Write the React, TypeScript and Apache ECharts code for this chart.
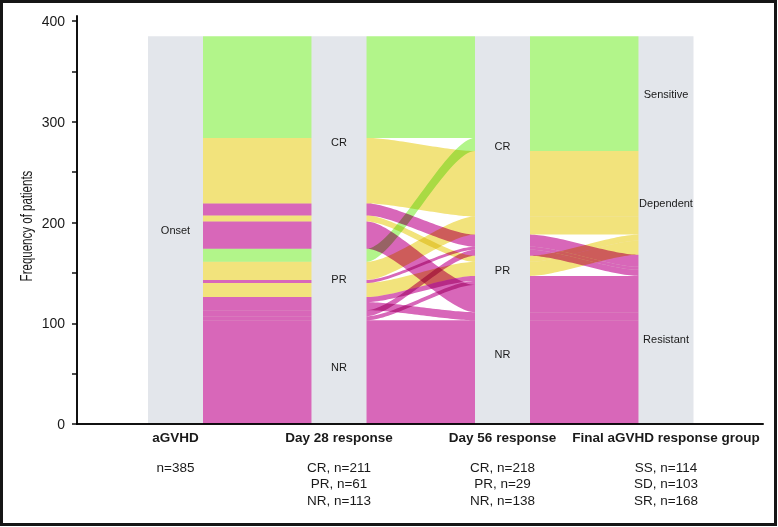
import React, { useEffect, useRef } from 'react';
import * as echarts from 'echarts';

// ---- axes (strata columns) ----
const axisTitles = ['aGVHD', 'Day 28 response', 'Day 56 response', 'Final aGVHD response group'];
const axisCountLabels = [
  ['n=385'],
  ['CR, n=211', 'PR, n=61', 'NR, n=113'],
  ['CR, n=218', 'PR, n=29', 'NR, n=138'],
  ['SS, n=114', 'SD, n=103', 'SR, n=168'],
];
const axisPositions = [1, 2, 3, 4];
const strataOrder = [
  ['Onset'],
  ['CR', 'PR', 'NR'],
  ['CR', 'PR', 'NR'],
  ['Sensitive', 'Dependent', 'Resistant'],
];
const yAxisTitle = 'Frequency of patients';

// ---- alluvia (one entry per patient path) ----
const onset = ['Onset', 'Onset', 'Onset', 'Onset', 'Onset', 'Onset', 'Onset', 'Onset', 'Onset', 'Onset', 'Onset', 'Onset', 'Onset', 'Onset'];
const day28 = ['CR', 'CR', 'CR', 'CR', 'CR', 'PR', 'PR', 'PR', 'PR', 'PR', 'PR', 'NR', 'NR', 'NR'];
const day56 = ['CR', 'CR', 'CR', 'PR', 'NR', 'CR', 'CR', 'CR', 'PR', 'PR', 'NR', 'CR', 'PR', 'NR'];
const finalGroup = ['Sensitive', 'Dependent', 'Resistant', 'Dependent', 'Resistant', 'Sensitive', 'Dependent', 'Resistant', 'Dependent', 'Resistant', 'Resistant', 'Resistant', 'Resistant', 'Resistant'];
const patients = [101, 65, 12, 6, 27, 13, 18, 3, 14, 5, 8, 6, 4, 103];

// ---- y axis ticks ----
const yTickValues = [0, 50, 100, 150, 200, 250, 300, 350, 400];
const yLabelValues = [0, 100, 200, 300, 400];

// ---- styles ----
const groupColors: Record<string, string> = {
  Sensitive: '#b2f58a',
  Dependent: '#f2e37c',
  Resistant: '#d867b9',
};
const STRATUM_FILL = '#e3e6eb';
const HW = 0.1682; // stratum half width (x units)
const KNOT = 0.25;
const FONT = "'Liberation Sans', Arial, Helvetica, sans-serif";
const TEXT = '#1a1a1a';

// ---- lode layout (derived from data) ----
const columns = [onset, day28, day56, finalGroup];
const keyOrder = [
  [0, 1, 2, 3],
  [1, 2, 3, 0],
  [2, 3, 1, 0],
  [3, 2, 1, 0],
];
const total = patients.reduce((a, b) => a + b, 0);
const rankOf = (axis: number, i: number) => strataOrder[axis].indexOf(columns[axis][i]);

type Lode = { top: number; bottom: number };
const lodes: Lode[][] = columns.map((_, axis) => {
  const idx = patients.map((_, i) => i);
  idx.sort((a, b) => {
    for (const k of keyOrder[axis]) {
      const d = rankOf(k, a) - rankOf(k, b);
      if (d !== 0) return d;
    }
    return a - b;
  });
  const res: Lode[] = new Array(patients.length);
  let y = total;
  for (const i of idx) {
    res[i] = { top: y, bottom: y - patients[i] };
    y -= patients[i];
  }
  return res;
});

const strataRanges = strataOrder.map((names, axis) =>
  names.map((name) => {
    let top = -Infinity;
    let bottom = Infinity;
    patients.forEach((_, i) => {
      if (columns[axis][i] === name) {
        top = Math.max(top, lodes[axis][i].top);
        bottom = Math.min(bottom, lodes[axis][i].bottom);
      }
    });
    return { top, bottom };
  })
);

const strataData: number[][] = [];
strataOrder.forEach((names, a) => names.forEach((_, s) => strataData.push([a, s])));
const flowData: number[][] = [];
for (let seg = 0; seg < axisPositions.length - 1; seg++) {
  patients.forEach((_, i) => flowData.push([seg, i]));
}

export default function App() {
  const ref = useRef<HTMLDivElement>(null);

  useEffect(() => {
    if (!ref.current) return;
    const chart = echarts.init(ref.current, null, { renderer: 'svg' });

    const option: any = {
      animation: false,
      grid: { left: 77, right: 15, top: 16, bottom: 103 },
      graphic: [
        {
          type: 'text',
          x: 26.5,
          y: 226,
          rotation: Math.PI / 2,
          scaleX: 0.72,
          style: {
            text: yAxisTitle,
            align: 'center',
            verticalAlign: 'middle',
            fontFamily: FONT,
            fontSize: 16,
            fill: TEXT,
          },
        },
      ],
      xAxis: {
        type: 'value',
        min: 0.39755,
        max: 4.59327,
        axisLine: { show: true, lineStyle: { color: '#111', width: 2 } },
        axisTick: { show: false },
        splitLine: { show: false },
        axisLabel: {
          customValues: axisPositions,
          margin: 4,
          formatter: (v: number) => {
            const i = Math.round(v) - 1;
            if (i < 0 || i >= axisTitles.length) return '';
            return (
              `{t|${axisTitles[i]}}\n{sp| }\n` +
              axisCountLabels[i].map((c) => `{n|${c}}`).join('\n')
            );
          },
          rich: {
            t: { fontFamily: FONT, fontWeight: 'bold', fontSize: 13.5, lineHeight: 18, color: TEXT },
            sp: { fontSize: 1, lineHeight: 13 },
            n: { fontFamily: FONT, fontSize: 13.5, lineHeight: 16.5, color: TEXT },
          },
        },
      },
      yAxis: {
        type: 'value',
        min: 0,
        max: 405,
        axisLine: { show: true, lineStyle: { color: '#111', width: 2 } },
        axisTick: { show: true, length: 5, customValues: yTickValues, lineStyle: { color: '#111', width: 1.5 } },
        axisLabel: { customValues: yLabelValues, fontFamily: FONT, fontSize: 14, color: TEXT, margin: 12 },
        splitLine: { show: false },
      },
      series: [
        {
          type: 'custom',
          name: 'strata',
          coordinateSystem: 'cartesian2d',
          silent: true,
          data: strataData,
          renderItem: (_params: any, api: any) => {
            const a = api.value(0) as number;
            const s = api.value(1) as number;
            const st = strataRanges[a][s];
            const p0 = api.coord([axisPositions[a] - HW, st.top]);
            const p1 = api.coord([axisPositions[a] + HW, st.bottom]);
            const c = api.coord([axisPositions[a], (st.top + st.bottom) / 2]);
            return {
              type: 'group',
              children: [
                {
                  type: 'rect',
                  shape: { x: p0[0], y: p0[1], width: p1[0] - p0[0], height: p1[1] - p0[1] },
                  style: { fill: STRATUM_FILL },
                },
                {
                  type: 'text',
                  x: c[0],
                  y: c[1],
                  z2: 10,
                  style: {
                    text: strataOrder[a][s],
                    align: 'center',
                    verticalAlign: 'middle',
                    fontFamily: FONT,
                    fontSize: 11,
                    fill: TEXT,
                  },
                },
              ],
            };
          },
        },
        {
          type: 'custom',
          name: 'flows',
          coordinateSystem: 'cartesian2d',
          silent: true,
          data: flowData,
          renderItem: (_params: any, api: any) => {
            const seg = api.value(0) as number;
            const i = api.value(1) as number;
            const L = lodes[seg][i];
            const R = lodes[seg + 1][i];
            const xa = axisPositions[seg] + HW;
            const xb = axisPositions[seg + 1] - HW;
            const curve = (ya: number, yb: number) => {
              const p0 = api.coord([xa, ya]);
              const p1 = api.coord([xb, yb]);
              const w = p1[0] - p0[0];
              const c1x = p0[0] + KNOT * w;
              const c2x = p1[0] - KNOT * w;
              const pts: number[][] = [];
              const N = 40;
              for (let k = 0; k <= N; k++) {
                const t = k / N;
                const u = 1 - t;
                const x = u * u * u * p0[0] + 3 * u * u * t * c1x + 3 * u * t * t * c2x + t * t * t * p1[0];
                const y = u * u * u * p0[1] + 3 * u * u * t * p0[1] + 3 * u * t * t * p1[1] + t * t * t * p1[1];
                pts.push([x, y]);
              }
              return pts;
            };
            const top = curve(L.top, R.top);
            const bot = curve(L.bottom, R.bottom).reverse();
            return {
              type: 'polygon',
              shape: { points: top.concat(bot) },
              style: { fill: groupColors[finalGroup[i]], blend: 'multiply' },
            };
          },
        },
      ],
    };

    chart.setOption(option);
    return () => chart.dispose();
  }, []);

  return (
    <div style={{ position: 'fixed', left: 0, top: 0, width: 778, height: 527, background: '#fff' }}>
      <style>{`.alluvial-chart svg path { mix-blend-mode: multiply; }`}</style>
      <div ref={ref} className="alluvial-chart" style={{ position: 'absolute', left: 0, top: 0, width: 778, height: 527 }} />
      <div
        style={{
          position: 'absolute',
          left: 0,
          top: 0,
          width: 777,
          height: 526,
          boxSizing: 'border-box',
          border: '3px solid #161616',
          pointerEvents: 'none',
        }}
      />
    </div>
  );
}
